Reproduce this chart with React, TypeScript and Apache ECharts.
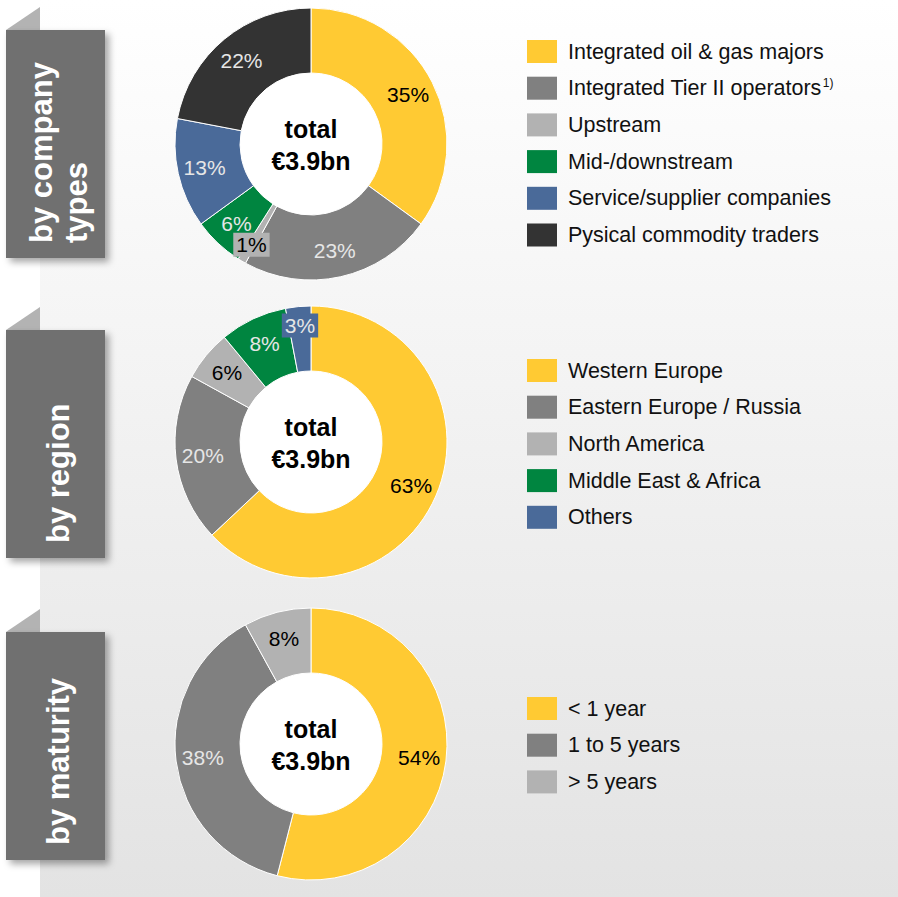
import React, { useEffect, useRef } from 'react';
import * as echarts from 'echarts';

// ---------- data ----------
const companyTypes = [
  'Integrated oil & gas majors',
  'Integrated Tier II operators',
  'Upstream',
  'Mid-/downstream',
  'Service/supplier companies',
  'Pysical commodity traders',
];
const companyShares = [35, 23, 1, 6, 13, 22];

const regions = ['Western Europe', 'Eastern Europe / Russia', 'North America', 'Middle East & Africa', 'Others'];
const regionShares = [63, 20, 6, 8, 3];

const maturities = ['< 1 year', '1 to 5 years', '> 5 years'];
const maturityShares = [54, 38, 8];

const sectionTitles = ['by company\ntypes', 'by region', 'by maturity'];
const totalLabel = 'total\n€3.9bn';
const footnoteItem = 'Integrated Tier II operators';
const footnoteMark = '1)';

// ---------- styles ----------
const YELLOW = '#FFCA33';
const GRAY = '#808080';
const LIGHT = '#B2B2B2';
const GREEN = '#008540';
const BLUE = '#4A6A99';
const DARK = '#333333';
const FONT = '"Liberation Sans", Arial, sans-serif';

const companyColors = [YELLOW, GRAY, LIGHT, GREEN, BLUE, DARK];
const regionColors = [YELLOW, GRAY, LIGHT, GREEN, BLUE];
const maturityColors = [YELLOW, GRAY, LIGHT];

const CX = 311;
const centersY = [144, 442, 744];
const R_IN = 71;
const R_OUT = 136;
const LABEL_R = 109;
const SMALL_LABEL_R = 117;
const tabTops = [30, 330, 632];
const TAB_H = 228;

const darkText = (c: string) => c === YELLOW || c === LIGHT;

function makePie(names: string[], values: number[], colors: string[], cy: number) {
  return {
    type: 'pie',
    center: [CX, cy],
    radius: [R_IN, R_OUT],
    startAngle: 90,
    clockwise: true,
    silent: true,
    avoidLabelOverlap: false,
    minShowLabelAngle: 0,
    itemStyle: { borderColor: '#ffffff', borderWidth: 1 },
    labelLine: { show: false },
    label: {
      show: true,
      position: 'inside',
      overflow: 'none',
      formatter: '{c}%',
      fontSize: 21,
      fontFamily: FONT,
    },
    labelLayout: (p: any) => {
      const r = p.labelRect;
      const lx = r.x + r.width / 2;
      const ly = r.y + r.height / 2;
      const dx0 = lx - CX;
      const dy0 = ly - cy;
      const d = Math.sqrt(dx0 * dx0 + dy0 * dy0) || 1;
      const target = values[p.dataIndex] <= 3 ? SMALL_LABEL_R : LABEL_R;
      return { dx: (dx0 / d) * (target - d), dy: (dy0 / d) * (target - d), hideOverlap: false };
    },
    data: names.map((n, i) => ({
      name: n,
      value: values[i],
      itemStyle: { color: colors[i] },
      label: {
        color: darkText(colors[i]) ? '#000000' : '#E6E6E6',
        backgroundColor: values[i] <= 3 ? colors[i] : 'transparent',
        padding: values[i] <= 3 ? [2, 3, 1, 3] : 0,
      },
    })),
  };
}

function makeLegend(names: string[], top: number) {
  return {
    data: names,
    orient: 'vertical',
    left: 527,
    top,
    padding: 0,
    itemWidth: 30,
    itemHeight: 23,
    itemGap: 13.7,
    icon: 'rect',
    itemStyle: { borderWidth: 0 },
    selectedMode: false,
    formatter: (n: string) => (n === footnoteItem ? `{m|${n}}{sup|${footnoteMark}}` : `{m|${n}}`),
    textStyle: {
      fontSize: 21.5,
      lineHeight: 23,
      fontFamily: FONT,
      color: '#111111',
      rich: {
        m: { fontSize: 21.5, fontFamily: FONT, color: '#111111', lineHeight: 23, padding: [0, 0, 0, 6] },
        sup: { fontSize: 12, fontFamily: FONT, color: '#111111', lineHeight: 14, verticalAlign: 'top', padding: [0, 0, 0, 1] },
      },
    },
  };
}

export default function App() {
  const ref = useRef<HTMLDivElement>(null);
  useEffect(() => {
    if (!ref.current) return;
    const chart = echarts.init(ref.current, null, { renderer: 'svg' });

    const graphics: any[] = [
      {
        type: 'rect',
        z: -10,
        silent: true,
        shape: { x: 40, y: 0, width: 858, height: 897 },
        style: {
          fill: new echarts.graphic.LinearGradient(0, 0, 0, 1, [
            { offset: 0, color: '#FFFFFF' },
            { offset: 1, color: '#E3E3E3' },
          ]),
        },
      },
    ];

    tabTops.forEach((t, i) => {
      graphics.push({
        type: 'polygon',
        z: -5,
        shape: { points: [[6, t], [40, t - 23], [40, t]] },
        style: { fill: '#B3B3B3' },
      });
      graphics.push({
        type: 'rect',
        z: -4,
        shape: { x: 6, y: t, width: 99, height: TAB_H },
        style: {
          fill: '#707070',
          shadowBlur: 7,
          shadowOffsetX: 4,
          shadowOffsetY: 4,
          shadowColor: 'rgba(0,0,0,0.35)',
        },
      });
      graphics.push({
        type: 'text',
        z: -3,
        x: i === 0 ? 58.5 : 58,
        y: t + TAB_H - 15,
        rotation: Math.PI / 2,
        style: {
          text: sectionTitles[i],
          fill: '#FFFFFF',
          fontSize: 31,
          fontWeight: 'bold',
          fontFamily: FONT,
          align: 'left',
          verticalAlign: 'middle',
          lineHeight: 35,
        },
      });
    });

    centersY.forEach((cy) => {
      graphics.push({
        type: 'circle',
        z: -2,
        shape: { cx: CX, cy, r: R_IN },
        style: { fill: '#FFFFFF' },
      });
      graphics.push({
        type: 'text',
        z: 10,
        x: CX,
        y: cy + 1,
        style: {
          text: totalLabel,
          fill: '#000000',
          fontSize: 25,
          fontWeight: 'bold',
          fontFamily: FONT,
          align: 'center',
          verticalAlign: 'middle',
          lineHeight: 32,
        },
      });
    });

    chart.setOption({
      animation: false,
      graphic: graphics,
      legend: [makeLegend(companyTypes, 40), makeLegend(regions, 359), makeLegend(maturities, 697)],
      series: [
        makePie(companyTypes, companyShares, companyColors, centersY[0]),
        makePie(regions, regionShares, regionColors, centersY[1]),
        makePie(maturities, maturityShares, maturityColors, centersY[2]),
      ],
    });
    return () => chart.dispose();
  }, []);

  return (
    <div
      ref={ref}
      style={{ position: 'fixed', left: 0, top: 0, width: 898, height: 897, background: '#ffffff' }}
    />
  );
}
